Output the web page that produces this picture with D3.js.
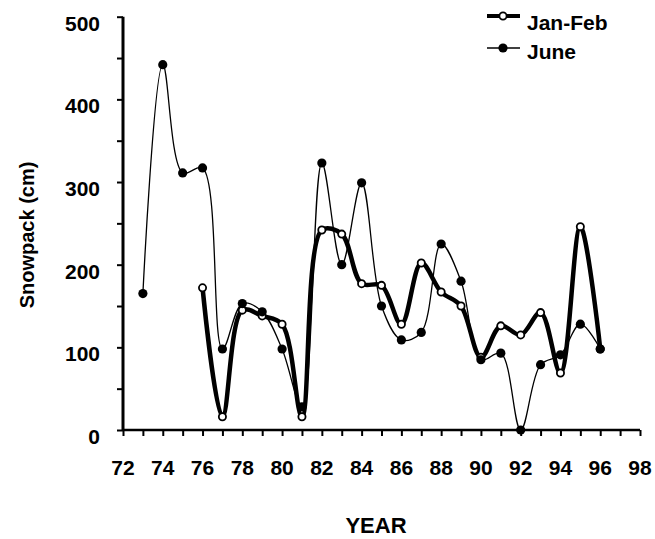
<!DOCTYPE html>
<html>
<head>
<meta charset="utf-8">
<script src="https://cdn.jsdelivr.net/npm/d3@7"></script>
<style>
  body { margin: 0; background: #fff; }
  text { font-family: "Liberation Sans", Arial, sans-serif; fill: #000; font-weight: bold; }
</style>
</head>
<body>
<div class="chart-wrapper"></div>
<script>
// snowpack readings, year = 19xx
const janYears = [76, 77, 78, 79, 80, 81, 82, 83, 84, 85, 86, 87, 88, 89, 90, 91, 92, 93, 94, 95, 96]
const janFeb = [172, 16, 145, 138, 128, 16, 242, 237, 177, 175, 128, 202, 167, 150, 88, 126, 115, 142, 69, 246, 98]
const juneYears = [73, 74, 75, 76, 77, 78, 79, 80, 81, 82, 83, 84, 85, 86, 87, 88, 89, 90, 91, 92, 93, 94, 95, 96]
const june = [165, 442, 311, 317, 98, 153, 143, 98, 28, 323, 200, 299, 150, 109, 118, 225, 180, 85, 93, 0, 79, 91, 128, 98]
const xTicks = [72, 74, 76, 78, 80, 82, 84, 86, 88, 90, 92, 94, 96, 98]
const yTicks = [0, 100, 200, 300, 400, 500]

const width = 655
const height = 539

const svg = d3.select('.chart-wrapper').append('svg')
    .attr('width', width)
    .attr('height', height)

const x = d3.scaleLinear().domain([72, 98]).range([123, 640])
const y = d3.scaleLinear().domain([0, 500]).range([430, 16.7])

// minor ticks every year on x, every 50 on y
const xAxis = d3.axisBottom(x).tickValues(d3.range(72, 99)).tickSize(6).tickFormat('')
const yAxis = d3.axisLeft(y).tickValues(d3.range(0, 501, 50)).tickSize(6).tickFormat('')

let gx = svg.append('g').attr('transform', `translate(0, ${y(0)})`).call(xAxis)
gx.select('.domain').attr('d', `M${x(72)},0H${x(98)}`).attr('stroke-width', 2.5)
gx.selectAll('.tick line').attr('stroke-width', 2)

let gy = svg.append('g').attr('transform', `translate(${x(72)}, 0)`).call(yAxis)
gy.select('.domain').attr('d', `M0,${y(500)}V${y(0)}`).attr('stroke-width', 3)
gy.selectAll('.tick line').attr('stroke-width', 2)

// tick labels
svg.append('g').selectAll('text')
    .data(xTicks)
    .enter().append('text')
    .attr('x', d => x(d))
    .attr('y', 475)
    .attr('text-anchor', 'middle')
    .style('font-size', '21px')
    .text(d => d)

svg.append('g').selectAll('text')
    .data(yTicks)
    .enter().append('text')
    .attr('x', 100)
    .attr('y', d => y(d) + 14)
    .attr('text-anchor', 'end')
    .style('font-size', '21px')
    .text(d => d)

svg.append('text')
    .attr('x', 376)
    .attr('y', 533)
    .attr('text-anchor', 'middle')
    .style('font-size', '22px')
    .text('YEAR')

svg.append('text')
    .attr('transform', 'translate(34, 235) rotate(-90)')
    .attr('text-anchor', 'middle')
    .style('font-size', '20px')
    .text('Snowpack (cm)')

// lines
let line = d3.line()
    .x(d => x(d[0]))
    .y(d => y(d[1]))
    .curve(d3.curveCatmullRom.alpha(0.5))

const janPts = janYears.map((yr, i) => [yr, janFeb[i]])
const junePts = juneYears.map((yr, i) => [yr, june[i]])

svg.append('path')
    .attr('d', line(janPts))
    .attr('fill', 'none')
    .attr('stroke', '#000')
    .attr('stroke-width', 4.5)
    .attr('stroke-linejoin', 'round')

svg.append('path')
    .attr('d', line(junePts))
    .attr('fill', 'none')
    .attr('stroke', '#000')
    .attr('stroke-width', 1.3)

svg.append('g').selectAll('circle')
    .data(janPts)
    .enter().append('circle')
    .attr('cx', d => x(d[0]))
    .attr('cy', d => y(d[1]))
    .attr('r', 3.6)
    .attr('fill', '#fff')
    .attr('stroke', '#000')
    .attr('stroke-width', 1.8)

svg.append('g').selectAll('circle')
    .data(junePts)
    .enter().append('circle')
    .attr('cx', d => x(d[0]))
    .attr('cy', d => y(d[1]))
    .attr('r', 4.6)
    .attr('fill', '#000')

// legend
let legend = svg.append('g')
legend.append('line').attr('x1', 487).attr('x2', 520).attr('y1', 16).attr('y2', 16)
    .attr('stroke', '#000').attr('stroke-width', 4)
legend.append('circle').attr('cx', 503).attr('cy', 16).attr('r', 3.6)
    .attr('fill', '#fff').attr('stroke', '#000').attr('stroke-width', 1.8)
legend.append('text').attr('x', 527).attr('y', 30).style('font-size', '21px').text('Jan-Feb')

legend.append('line').attr('x1', 487).attr('x2', 520).attr('y1', 48).attr('y2', 48)
    .attr('stroke', '#000').attr('stroke-width', 1.5)
legend.append('circle').attr('cx', 503).attr('cy', 48).attr('r', 4.6).attr('fill', '#000')
legend.append('text').attr('x', 527).attr('y', 59).style('font-size', '21px').text('June')
</script>
</body>
</html>
